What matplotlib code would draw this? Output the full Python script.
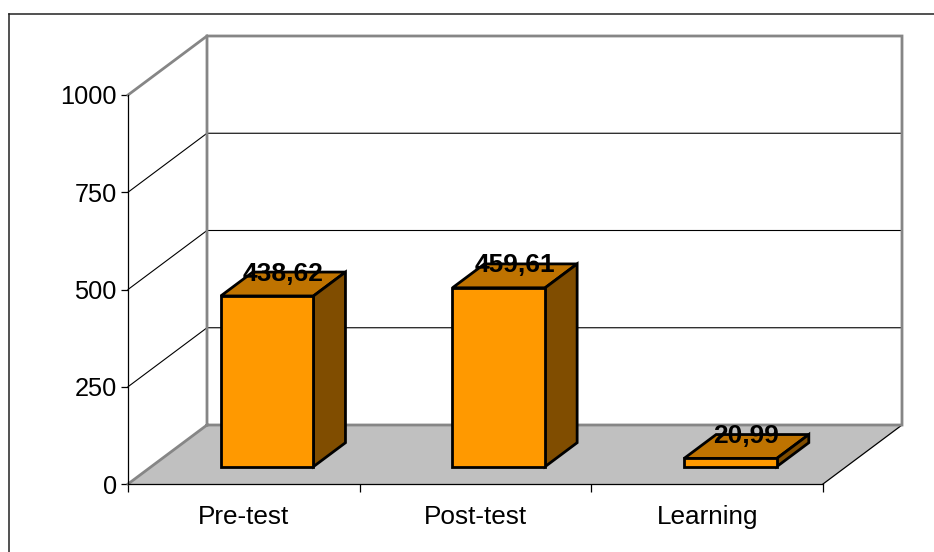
#!/usr/bin/env python3
import matplotlib.pyplot as plt
from matplotlib.lines import Line2D
from matplotlib.patches import Polygon

plt.rcParams["font.family"] = ["Liberation Sans", "DejaVu Sans"]

categories = ["Pre-test", "Post-test", "Learning"]
values = [438.62, 459.61, 20.99]
value_labels = ["438,62", "459,61", "20,99"]
value_ticks = [0, 250, 500, 750, 1000]

# how far the back wall sits from the front plane, in data units
DEPTH_X = 79 / 695 * 3
DEPTH_Y = 59 / 389 * 1000
BAR_WIDTH = 0.40
BAR_DEPTH_START = 0.295
BAR_DEPTH = 0.405

FRONT = "#ff9900"
TOP = "#bf7300"
SIDE = "#804d00"
FLOOR = "#c0c0c0"
WALL = "#868686"


def at_depth(x, y, d):
    return (x + d * DEPTH_X, y + d * DEPTH_Y)


def poly(ax, pts, face, edge, lw, z):
    ax.add_patch(Polygon(pts, closed=True, facecolor=face, edgecolor=edge,
                         linewidth=lw, zorder=z, clip_on=False, joinstyle="miter"))


fig = plt.figure(figsize=(9.34, 5.52), dpi=100)

# the outer frame is cut off on the right and bottom, only these two edges show
fig.add_artist(Line2D([9 / 934, 9 / 934], [0, 1 - 14 / 552], color="#222222", lw=1.1))
fig.add_artist(Line2D([9 / 934, 1], [1 - 14 / 552, 1 - 14 / 552], color="#222222", lw=1.1))

ax = fig.add_axes([128 / 934, 68 / 552, 695 / 934, 389 / 552])
ax.set_xlim(0, len(categories))
ax.set_ylim(0, 1000)
ax.patch.set_visible(False)
for side in ("top", "right"):
    ax.spines[side].set_visible(False)
for side in ("left", "bottom"):
    ax.spines[side].set_linewidth(0.9)
    ax.spines[side].set_zorder(3)

n = len(categories)

# floor and the two walls
poly(ax, [(0, 0), (n, 0), at_depth(n, 0, 1), at_depth(0, 0, 1)], FLOOR, "none", 0, 1)
ax.plot([n, at_depth(n, 0, 1)[0]], [0, DEPTH_Y], color="black", lw=0.9, zorder=2, clip_on=False)

for v in value_ticks[1:-1]:
    back = at_depth(0, v, 1)
    ax.plot([0, back[0], at_depth(n, v, 1)[0]], [v, back[1], back[1]],
            color="black", lw=0.8, zorder=2, clip_on=False)

wall_top = at_depth(0, 1000, 1)
wall_bottom = at_depth(0, 0, 1)
ax.plot([0, wall_bottom[0], at_depth(n, 0, 1)[0], at_depth(n, 1000, 1)[0], wall_top[0], wall_bottom[0]],
        [0, wall_bottom[1], wall_bottom[1], wall_top[1], wall_top[1], wall_bottom[1]],
        color=WALL, lw=2.0, zorder=2, clip_on=False, solid_joinstyle="miter")
ax.plot([0, wall_top[0]], [1000, wall_top[1]], color=WALL, lw=2.0, zorder=2, clip_on=False)

# bars
for i, v in enumerate(values):
    left = i + 0.5 - BAR_WIDTH / 2
    right = i + 0.5 + BAR_WIDTH / 2
    d0 = BAR_DEPTH_START
    d1 = BAR_DEPTH_START + BAR_DEPTH
    poly(ax, [at_depth(left, v, d0), at_depth(right, v, d0), at_depth(right, v, d1), at_depth(left, v, d1)],
         TOP, "black", 2.0, 4)
    poly(ax, [at_depth(right, 0, d0), at_depth(right, 0, d1), at_depth(right, v, d1), at_depth(right, v, d0)],
         SIDE, "black", 2.0, 4)
    poly(ax, [at_depth(left, 0, d0), at_depth(right, 0, d0), at_depth(right, v, d0), at_depth(left, v, d0)],
         FRONT, "black", 2.0, 5)
    label_x = at_depth(i + 0.5, v, (d0 + d1) / 2)[0]
    label_y = at_depth(i + 0.5, v, d1)[1] - 4
    ax.text(label_x, label_y, value_labels[i], ha="center", va="center",
            fontsize=19, fontweight="bold", color="black", zorder=6, clip_on=False)

ax.set_yticks(value_ticks)
ax.tick_params(axis="y", length=5, width=0.9, labelsize=18.3, pad=3)
ax.set_xticks(range(n + 1))
ax.set_xticklabels([])
ax.tick_params(axis="x", which="major", length=6, width=0.9)
ax.set_xticks([i + 0.5 for i in range(n)], minor=True)
ax.set_xticklabels(categories, minor=True)
ax.tick_params(axis="x", which="minor", length=0, labelsize=18.8, pad=15)

fig.savefig("out.png", dpi=100)
